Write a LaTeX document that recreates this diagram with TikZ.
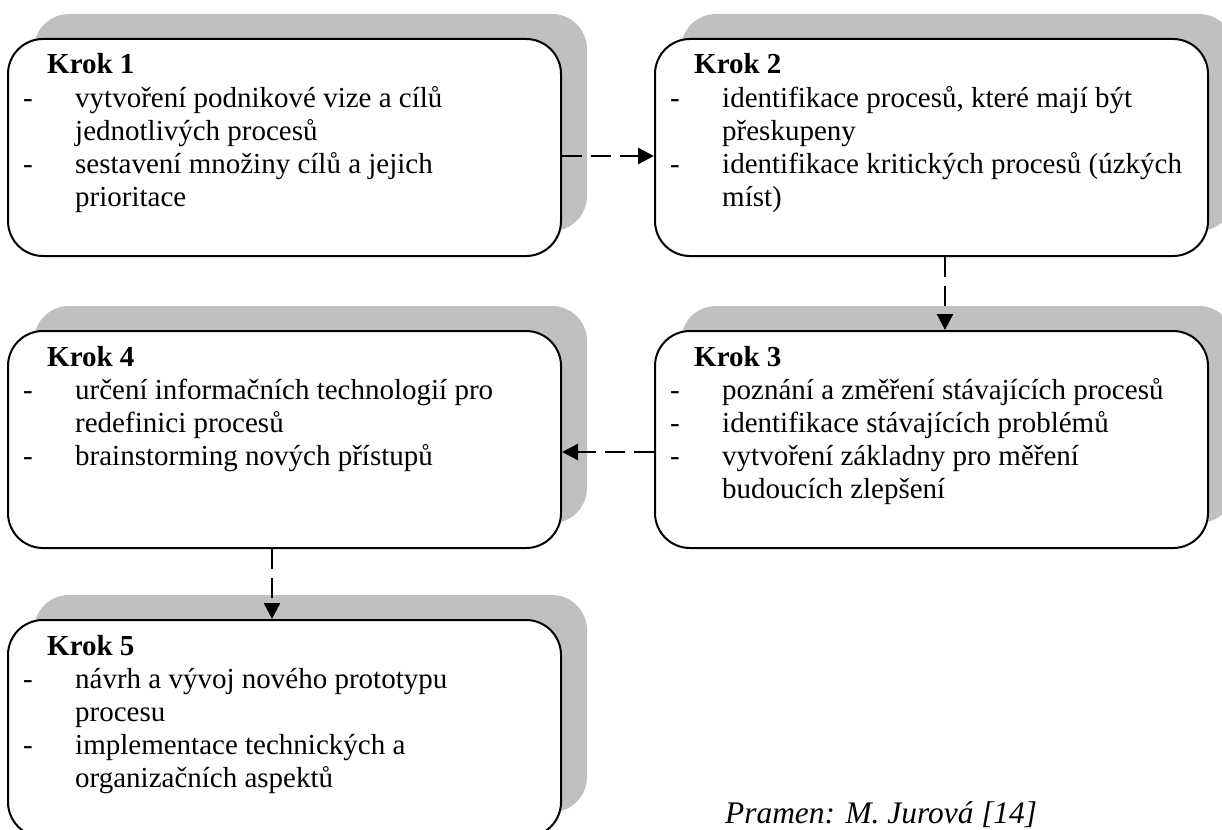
\documentclass[tikz,border=0pt]{standalone}
\usepackage{fontspec}
\setmainfont{Liberation Serif}
\usetikzlibrary{arrows.meta,shadows,calc}
\definecolor{shadowgray}{HTML}{C0C0C0}

% bullet dash and continuation indent for the step lists
\newcommand\pol{\hspace*{9pt}\makebox[52pt][l]{-}}
\newcommand\dal{\hspace*{61pt}}
\newcommand\krok[1]{\hspace*{33pt}\textbf{Krok #1}}

\tikzset{
  stepbox/.style={draw=black, line width=2pt, fill=white, rounded corners=35pt,
    minimum width=553pt, minimum height=217pt, inner sep=0pt,
    drop shadow={shadow xshift=26pt, shadow yshift=25pt, fill=shadowgray, opacity=1, draw=none}},
  steptext/.style={anchor=base west, inner sep=0pt, font=\fontsize{29}{33.2}\selectfont},
  flow/.style={line width=2.3pt, dash pattern=on 20pt off 9pt,
    -{Triangle[length=16pt,width=16pt]}},
}

\begin{document}
\begin{tikzpicture}[x=1pt,y=-1pt]
\useasboundingbox (0,0) rectangle (1222,829);

% step boxes
\node[stepbox] (b1) at (284.5,147.5) {};
\node[stepbox] (b2) at (931.5,147.5) {};
\node[stepbox] (b3) at (931.5,439.5) {};
\node[stepbox] (b4) at (284.5,439.5) {};
\node[stepbox] (b5) at (284.5,728.5) {};

% step contents
\node[steptext] (t1) at ($(b1.north west)+(7,36)$) {\parbox[t]{540pt}{\raggedright
\krok{1}\\
\pol vytvoření podnikové vize a cílů\\
\dal jednotlivých procesů\\
\pol sestavení množiny cílů a jejich\\
\dal prioritace}};

\node[steptext] (t2) at ($(b2.north west)+(7,36)$) {\parbox[t]{540pt}{\raggedright
\krok{2}\\
\pol identifikace procesů, které mají být\\
\dal přeskupeny\\
\pol identifikace kritických procesů (úzkých\\
\dal míst)}};

\node[steptext] (t3) at ($(b3.north west)+(7,36)$) {\parbox[t]{540pt}{\raggedright
\krok{3}\\
\pol poznání a změření stávajících procesů\\
\pol identifikace stávajících problémů\\
\pol vytvoření základny pro měření\\
\dal budoucích zlepšení}};

\node[steptext] (t4) at ($(b4.north west)+(7,36)$) {\parbox[t]{540pt}{\raggedright
\krok{4}\\
\pol určení informačních technologií pro\\
\dal redefinici procesů\\
\pol brainstorming nových přístupů}};

\node[steptext] (t5) at ($(b5.north west)+(7,36)$) {\parbox[t]{540pt}{\raggedright
\krok{5}\\
\pol návrh a vývoj nového prototypu\\
\dal procesu\\
\pol implementace technických a\\
\dal organizačních aspektů}};

% flow between steps
\draw[flow] ([yshift=-8.5pt]b1.east) -- ([yshift=-8.5pt]b2.west);
\draw[flow] ([xshift=13.5pt]b2.south) -- ([xshift=13.5pt]b3.north);
\draw[flow] ([yshift=-12.5pt]b3.west) -- ([yshift=-12.5pt]b4.east);
\draw[flow] ([xshift=-12.5pt]b4.south) -- ([xshift=-12.5pt]b5.north);

% source note
\node[anchor=base west, inner sep=0pt, font=\fontsize{31.4}{36}\selectfont\itshape]
  (src) at (725,823) {Pramen: M. Jurová [14]};
\end{tikzpicture}
\end{document}
